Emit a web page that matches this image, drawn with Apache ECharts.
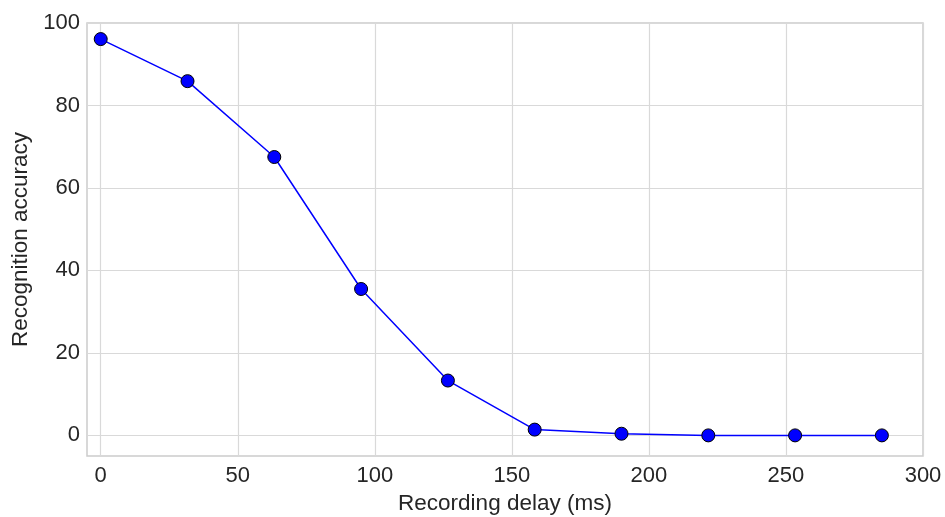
<!DOCTYPE html>
<html>
<head>
<meta charset="utf-8">
<script src="https://cdn.jsdelivr.net/npm/echarts@6/dist/echarts.min.js"></script>
<style>
  html, body { margin: 0; padding: 0; background: #fff; }
  #main { width: 945px; height: 517px; }
</style>
</head>
<body>
<div id="main"></div>
<script>
// recording delay (ms) and recognition accuracy
const delays = [0, 31.67, 63.33, 95, 126.67, 158.33, 190, 221.67, 253.33, 285];
const accuracy = [96.1, 85.9, 67.5, 35.5, 13.3, 1.4, 0.4, 0, 0, 0];
const xTicks = [0, 50, 100, 150, 200, 250, 300];
const yTicks = [0, 20, 40, 60, 80, 100];

let chart = echarts.init(document.getElementById('main'));

const textColor = '#262626';
const font = 'Liberation Sans, Arial, sans-serif';
const gridColor = '#d9d9d9';

let points = [];
for (let i = 0; i < delays.length; i++) {
  points.push([delays[i], accuracy[i]]);
}

// axes start at -5, so ticks run every 5 and only the nice ones get labels;
// the grid lines are drawn as markLines at the tick values
let gridLines = [];
xTicks.forEach((v) => gridLines.push({ xAxis: v }));
yTicks.forEach((v) => gridLines.push({ yAxis: v }));

let option = {
  animation: false,
  backgroundColor: '#fff',
  grid: {
    left: 87, right: 22, top: 23, bottom: 61,
    outerBoundsMode: 'none',
    containLabel: false,
    show: true, borderColor: '#cccccc', borderWidth: 1.5
  },
  xAxis: {
    type: 'value',
    min: -5, max: 300, interval: 5,
    name: 'Recording delay (ms)',
    nameLocation: 'middle',
    nameGap: 36,
    nameTextStyle: { color: textColor, fontSize: 22.5, fontFamily: font },
    axisLine: { show: false },
    axisTick: { show: false },
    axisLabel: {
      color: textColor, fontSize: 22, fontFamily: font, margin: 9,
      hideOverlap: false,
      formatter: function (v) { return xTicks.indexOf(v) >= 0 ? String(v) : ''; }
    },
    splitLine: { show: false }
  },
  yAxis: {
    type: 'value',
    min: -5, max: 100, interval: 5,
    name: 'Recognition accuracy',
    nameLocation: 'middle',
    nameGap: 53,
    nameTextStyle: { color: textColor, fontSize: 22.5, fontFamily: font },
    axisLine: { show: false },
    axisTick: { show: false },
    axisLabel: {
      color: textColor, fontSize: 22, fontFamily: font, margin: 7,
      hideOverlap: false,
      formatter: function (v) { return yTicks.indexOf(v) >= 0 ? String(v) : ''; }
    },
    splitLine: { show: false }
  },
  series: [{
    type: 'line',
    data: [],
    z: 1,
    silent: true,
    markLine: {
      z: 1,
      silent: true,
      symbol: 'none',
      animation: false,
      label: { show: false },
      emphasis: { disabled: true },
      lineStyle: { color: gridColor, width: 1.2, type: 'solid' },
      data: gridLines
    }
  }, {
    type: 'line',
    data: points,
    z: 10,
    symbol: 'circle',
    symbolSize: 13,
    lineStyle: { color: '#0000ff', width: 1.5 },
    itemStyle: { color: '#0000ff', borderColor: '#000000', borderWidth: 1 }
  }]
};

chart.setOption(option);
</script>
</body>
</html>
